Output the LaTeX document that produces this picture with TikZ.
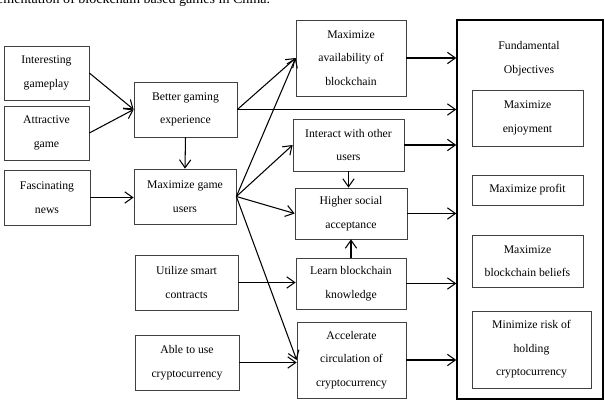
\documentclass[tikz,border=0pt]{standalone}
\usepackage{fontspec}
\setmainfont{Liberation Serif}
\usepackage{tikz}
\usetikzlibrary{positioning, arrows.meta, calc}

\tikzset{
	box/.style={draw=black!75, line width=0.6pt, align=center, inner sep=0pt,
		font=\fontsize{10}{20}\selectfont},
	arr/.style={-{Straight Barb[length=2.4mm, width=3.4mm]}, line width=0.9pt},
}

\begin{document}
\begin{tikzpicture}[x=0.03cm, y=-0.03cm]
		
		\useasboundingbox (0,0) rectangle (605,400);
		\node[anchor=base west, inner sep=0pt, font=\fontsize{12}{14}\selectfont] (caption) at (-3,4) {ementation of blockchain based games in China.};
		
		% means objectives on the left
		\node[box, minimum width=2.55cm, minimum height=1.62cm] (play) at (46.5,73) {Interesting\\gameplay};
		\node[box, minimum width=2.55cm, minimum height=1.62cm] (attract) at (46.5,133) {Attractive\\game};
		\node[box, minimum width=2.58cm, minimum height=1.65cm] (news) at (47,197.5) {Fascinating\\news};
		\node[box, minimum width=3.09cm, minimum height=1.65cm] (better) at (185.5,109.5) {Better gaming\\experience};
		\node[box, minimum width=3.06cm, minimum height=1.65cm] (users) at (185,196.5) {Maximize game\\users};
		\node[box, minimum width=3.09cm, minimum height=1.65cm] (smart) at (186.5,282.5) {Utilize smart\\contracts};
		\node[box, minimum width=3.12cm, minimum height=1.65cm] (crypto) at (187,362.5) {Able to use\\cryptocurrency};
		
		% middle column
		\node[box, minimum width=3.3cm, minimum height=2.28cm] (avail) at (351,58) {Maximize\\availability of\\blockchain};
		\node[box, minimum width=3.33cm, minimum height=1.56cm] (interact) at (348.5,145) {Interact with other\\users};
		\node[box, minimum width=3.36cm, minimum height=1.53cm] (social) at (351,213.5) {Higher social\\acceptance};
		\node[box, minimum width=3.3cm, minimum height=1.53cm] (learn) at (351,283.5) {Learn blockchain\\knowledge};
		\node[box, minimum width=3.27cm, minimum height=2.28cm] (accel) at (351.5,360) {Accelerate\\circulation of\\cryptocurrency};
		
		% fundamental objectives
		\node[draw, line width=1.2pt, minimum width=4.38cm, minimum height=11.37cm, inner sep=0pt] (fund) at (530,209.5) {};
		\node[align=center, inner sep=0pt, font=\fontsize{10}{20}\selectfont] (fundtitle) at (529,58.5) {Fundamental\\Objectives};
		\node[box, minimum width=3.33cm, minimum height=1.68cm] (enjoy) at (527.5,118) {Maximize\\enjoyment};
		\node[box, minimum width=3.33cm, minimum height=0.9cm] (profit) at (527.5,190) {Maximize profit};
		\node[box, minimum width=3.33cm, minimum height=1.56cm] (beliefs) at (527.5,261) {Maximize\\blockchain beliefs};
		\node[box, minimum width=3.57cm, minimum height=2.31cm] (risk) at (531.5,349.5) {Minimize risk of\\holding\\cryptocurrency};
		
		% connectors
		\draw[arr] (play.east) -- (better.west);
		\draw[arr] (attract.east) -- (better.west);
		\draw[arr] (news.east) -- (news.east -| users.west);
		\draw[arr] (better.south) -- (users.north);
		\draw[arr] (better.east) -- (avail.west);
		\draw[arr] (better.east) -- (better.east -| fund.west);
		\draw[arr] (users.east) -- (avail.west);
		\draw[arr] (users.east) -- (interact.west);
		\draw[arr] (users.east) -- (social.west);
		\draw[arr] (users.east) -- (accel.west);
		\draw[arr] (interact.south) -- (interact.south |- social.north);
		\draw[arr] (learn.north) -- (learn.north |- social.south);
		\draw[arr] (smart.east) -- (smart.east -| learn.west);
		\draw[arr] (crypto.east) -- (crypto.east -| accel.west);
		\draw[arr] (avail.east) -- (avail.east -| fund.west);
		\draw[arr] (interact.east) -- (interact.east -| fund.west);
		\draw[arr] (social.east) -- (social.east -| fund.west);
		\draw[arr] (learn.east) -- (learn.east -| fund.west);
		\draw[arr] (accel.east) -- (accel.east -| fund.west);
		
		\end{tikzpicture}
\end{document}
